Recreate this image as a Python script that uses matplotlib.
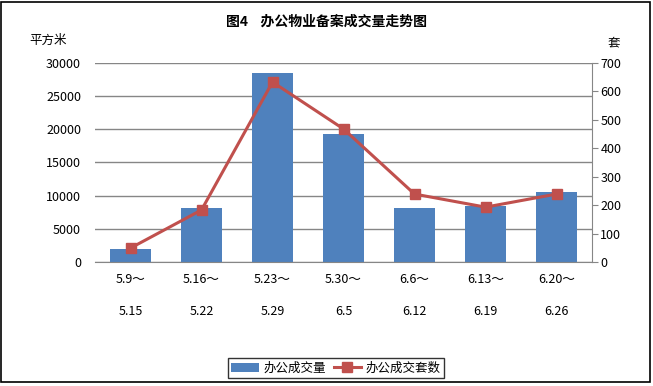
import matplotlib
matplotlib.use("Agg")
import matplotlib.pyplot as plt
from matplotlib.patches import Rectangle

plt.rcParams['font.family'] = ['Noto Sans CJK SC', 'DejaVu Sans']

# data
periods = ['5.9～\n\n5.15', '5.16～\n\n5.22', '5.23～\n\n5.29', '5.30～\n\n6.5',
           '6.6～\n\n6.12', '6.13～\n\n6.19', '6.20～\n\n6.26']
area = [2000, 8150, 28500, 19300, 8150, 8450, 10550]
units = [49, 183, 633, 468, 239, 193, 239]

fig = plt.figure(figsize=(6.53, 3.86), dpi=100)
fig.patches.append(Rectangle((0.002, 0.01), 0.994, 0.985, transform=fig.transFigure,
                             fill=False, edgecolor='black', linewidth=1.2))

ax = fig.add_axes([95 / 653, 1 - 262 / 386, 497 / 653, 199 / 386])
x = range(len(periods))
ax.bar(x, area, width=0.58, color='#4f81bd', label='办公成交量', zorder=2)
ax.set_ylim(0, 30000)
ax.set_yticks(range(0, 30001, 5000))
ax.set_xlim(-0.5, len(periods) - 0.5)
ax.set_xticks(list(x))
ax.set_xticklabels(periods, fontsize=9, linespacing=1.3)
ax.tick_params(axis='x', length=0, pad=8)
ax.tick_params(axis='y', length=0, labelsize=9, pad=10)
ax.grid(axis='y', color='#868686', linewidth=1, zorder=0)
for s in ['left', 'top', 'right']:
    ax.spines[s].set_visible(False)
ax.spines['bottom'].set_color('#868686')

ax2 = ax.twinx()
ax2.plot(x, units, color='#c0504d', linewidth=2.2, marker='s', markersize=7,
         label='办公成交套数', zorder=3)
ax2.set_ylim(0, 700)
ax2.set_yticks(range(0, 701, 100))
ax2.tick_params(axis='y', labelsize=9, color='#868686', length=4, pad=2)
for s in ['left', 'top', 'bottom']:
    ax2.spines[s].set_visible(False)
ax2.spines['right'].set_color('#868686')

fig.text(0.5, 1 - 22 / 386, '图4    办公物业备案成交量走势图', ha='center', va='center',
         fontsize=10, fontweight='bold')
fig.text(48 / 653, 1 - 40 / 386, '平方米', ha='center', va='center', fontsize=9)
fig.text(614 / 653, 1 - 43 / 386, '套', ha='center', va='center', fontsize=9)

h1, l1 = ax.get_legend_handles_labels()
h2, l2 = ax2.get_legend_handles_labels()
leg = fig.legend(h1 + h2, l1 + l2, loc='center', bbox_to_anchor=(336 / 653, 1 - 368 / 386),
                 ncol=2, fontsize=9, frameon=True, fancybox=False, edgecolor='black',
                 handlelength=2.2, columnspacing=0.6, handletextpad=0.4,
                 borderpad=0.25)
leg.get_frame().set_linewidth(1)

fig.savefig('out.png', dpi=100)
